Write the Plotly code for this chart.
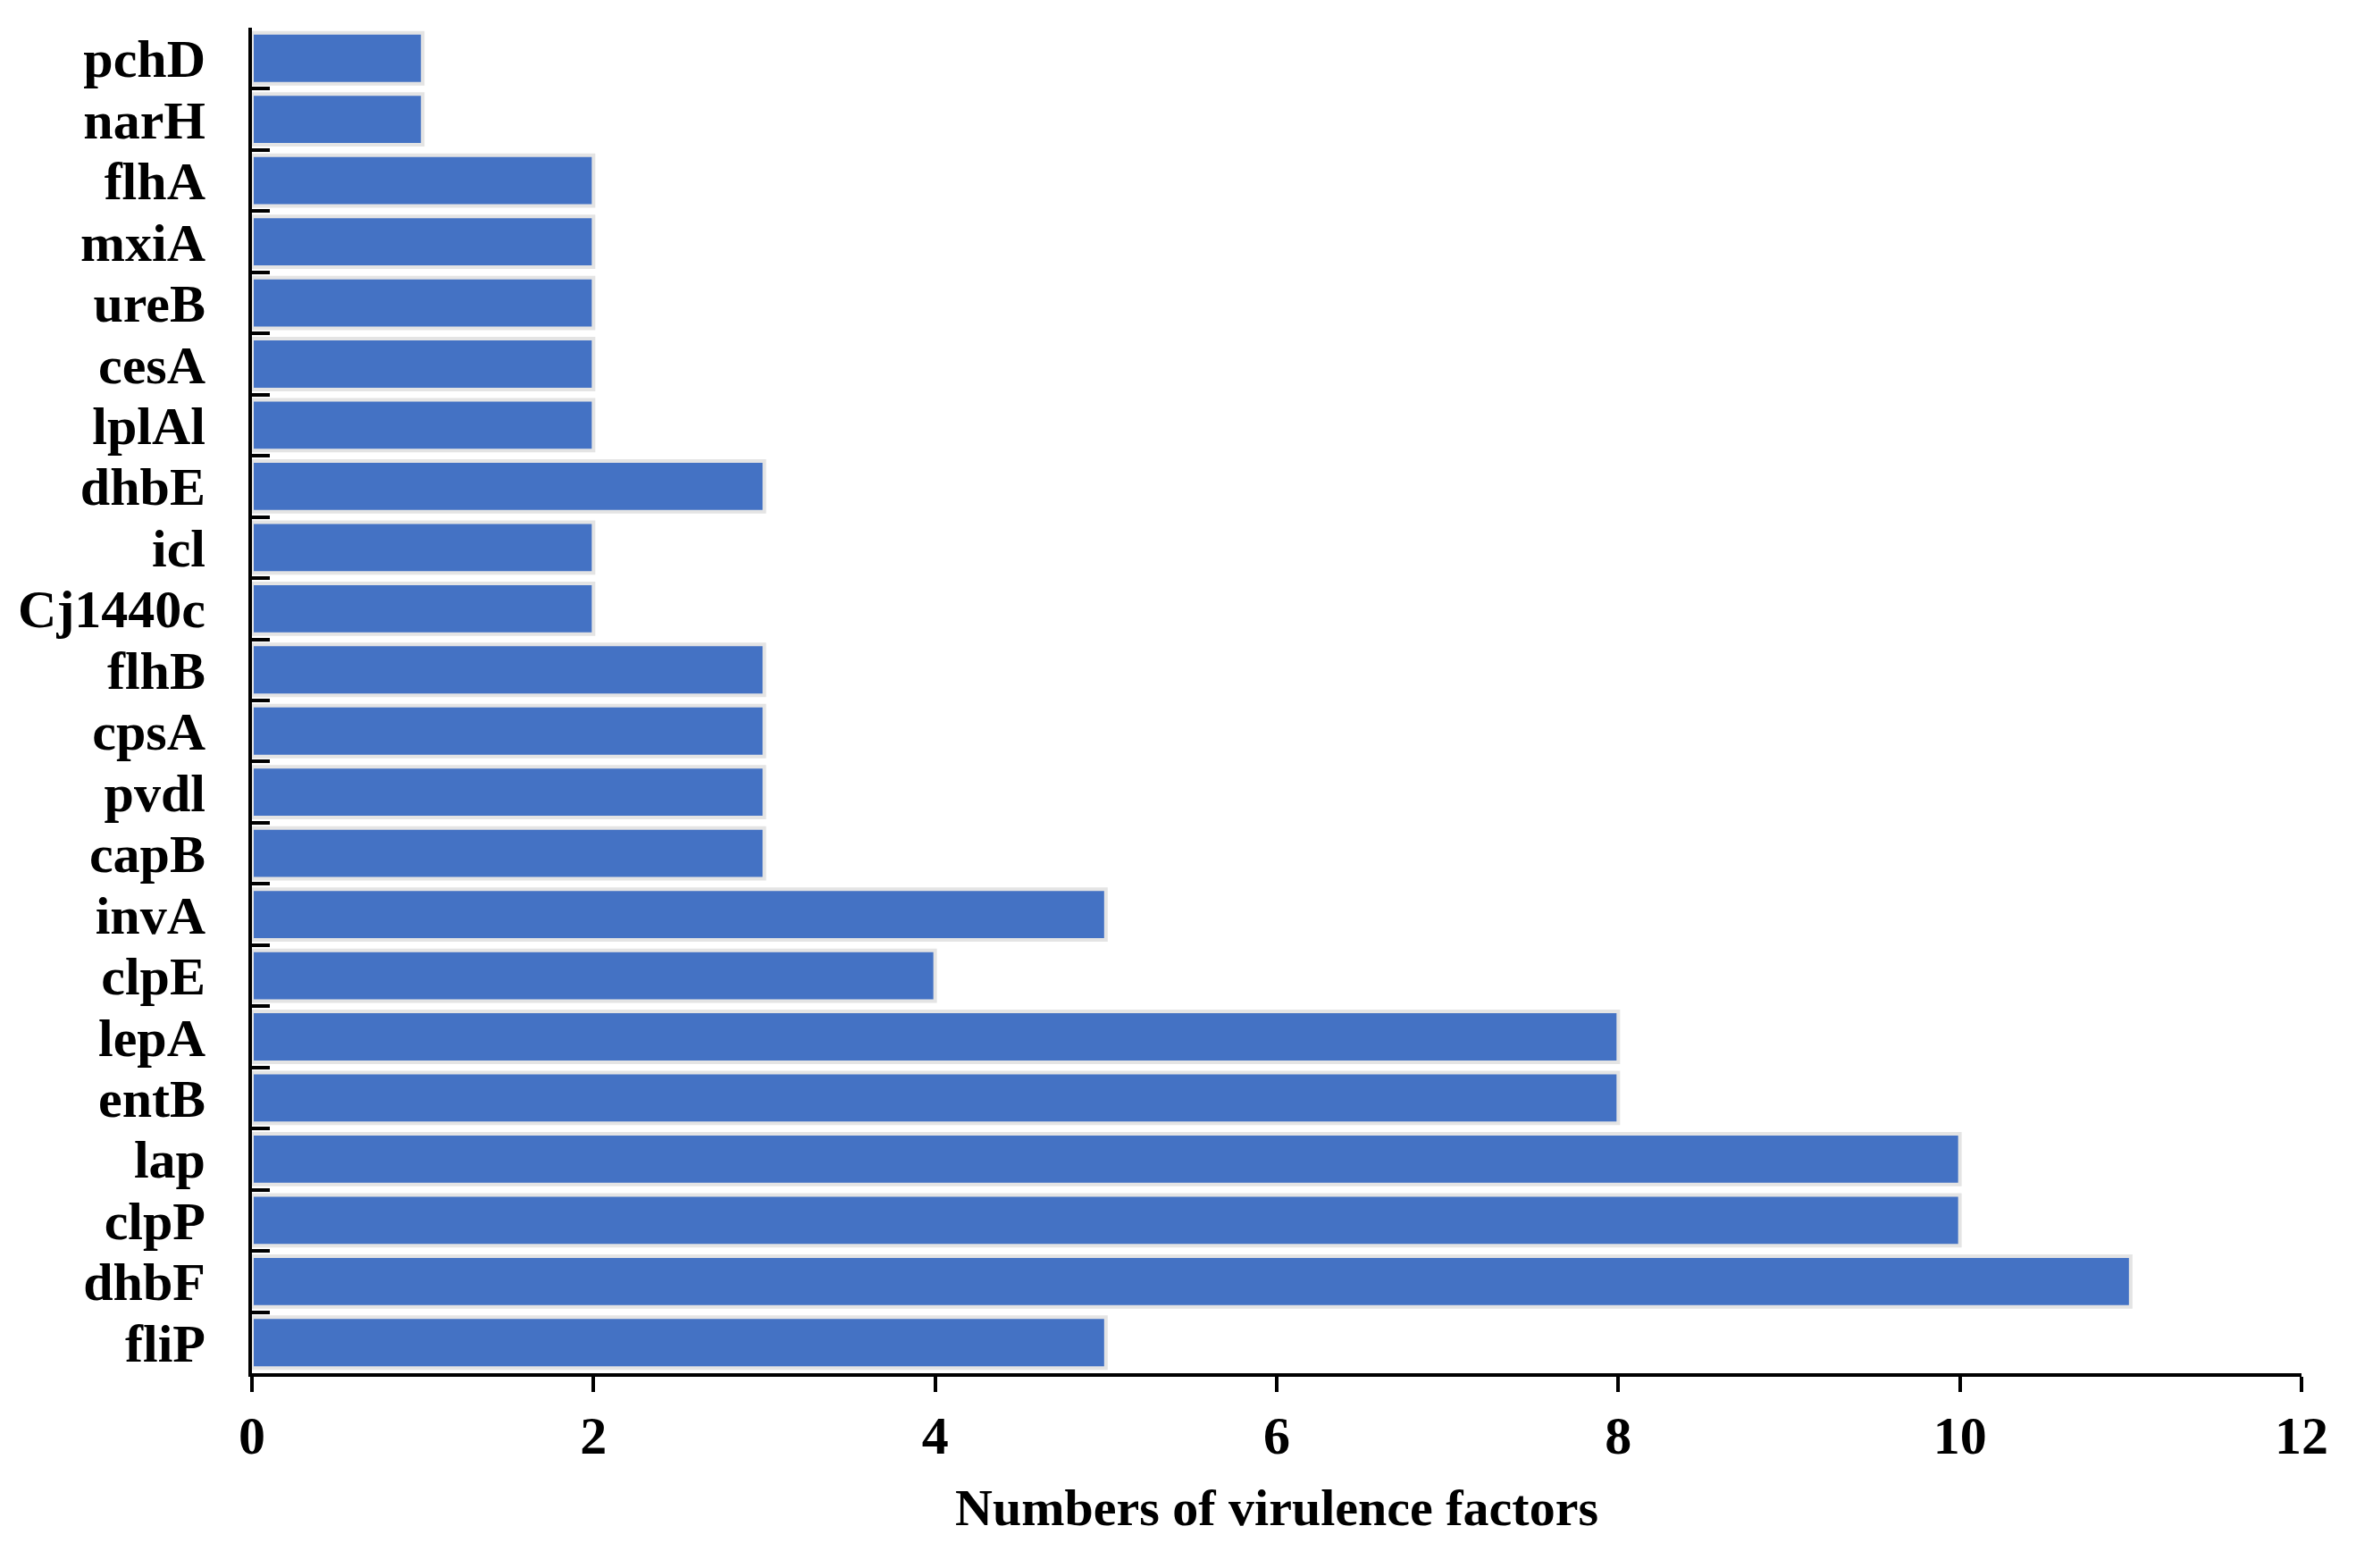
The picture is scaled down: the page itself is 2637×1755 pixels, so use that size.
import plotly.graph_objects as go

genes = ["pchD", "narH", "flhA", "mxiA", "ureB", "cesA", "lplAl", "dhbE", "icl", "Cj1440c",
         "flhB", "cpsA", "pvdl", "capB", "invA", "clpE", "lepA", "entB", "lap", "clpP",
         "dhbF", "fliP"]
counts = [1, 1, 2, 2, 2, 2, 2, 3, 2, 2, 3, 3, 3, 3, 5, 4, 8, 8, 10, 10, 11, 5]
x_ticks = [0, 2, 4, 6, 8, 10, 12]

FONT = "Liberation Serif"

fig = go.Figure(go.Bar(
    x=counts, y=genes, orientation="h",
    marker=dict(color="#4472C4", line=dict(color="#E4E4E4", width=4)),
))

fig.update_layout(
    width=2637, height=1755,
    margin=dict(l=272, r=69, t=23, b=226),
    paper_bgcolor="white", plot_bgcolor="white",
    bargap=0.17,
    showlegend=False,
    font=dict(family=FONT, size=60, color="black"),
)

fig.update_xaxes(
    range=[0, 12], tickvals=x_ticks, ticktext=[str(v) for v in x_ticks],
    showline=True, linecolor="black", linewidth=4,
    ticks="outside", ticklen=17, tickwidth=4, tickcolor="black",
    showgrid=False, zeroline=False,
    tickfont=dict(family=FONT, size=60, color="black", weight="bold"),
    ticklabelstandoff=-3,
    title=dict(text="<b>Numbers of virulence factors</b>",
               font=dict(family=FONT, size=58, color="black"), standoff=28),
)

fig.update_yaxes(
    type="category", categoryorder="array", categoryarray=genes, autorange="reversed",
    tickmode="linear", dtick=1,
    showline=True, linecolor="black", linewidth=4,
    ticks="inside", tickson="boundaries", ticklen=20, tickwidth=4, tickcolor="black",
    showgrid=False, zeroline=False,
    tickfont=dict(family=FONT, size=60, color="black", weight="bold"),
    ticklabelstandoff=36,
)

fig.write_html("out.html")
